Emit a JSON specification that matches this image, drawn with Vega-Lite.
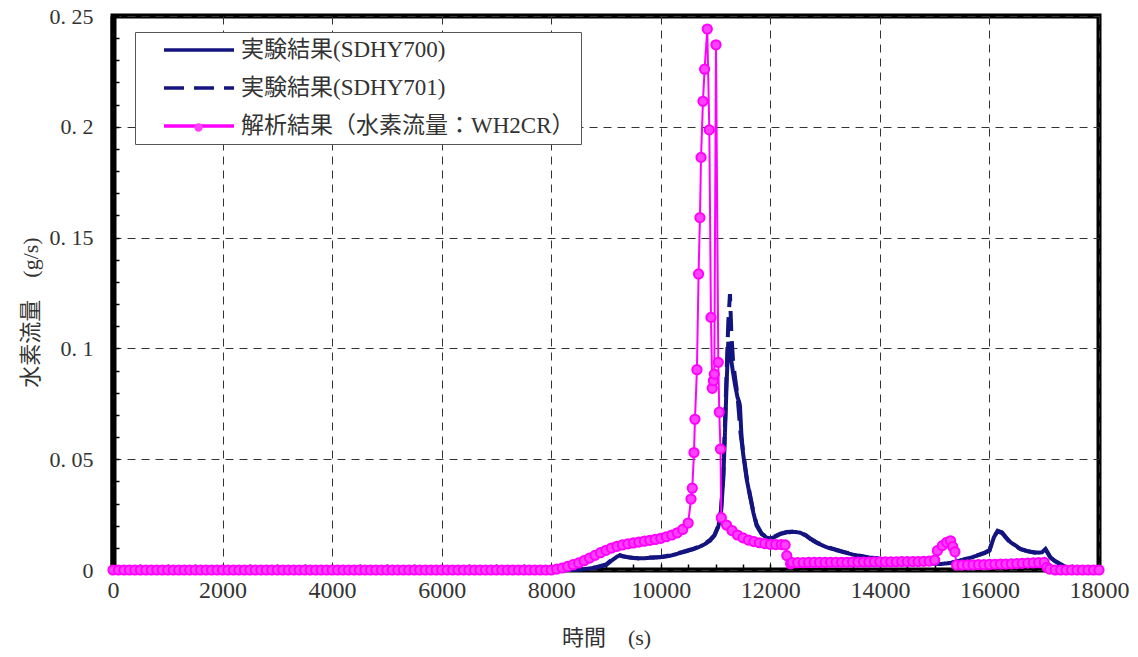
{
  "$schema": "https://vega.github.io/schema/vega-lite/v6.json",
  "width": 986,
  "height": 554,
  "autosize": {"type": "none"},
  "padding": {"left": 113, "top": 16, "right": 39, "bottom": 87},
  "background": "white",
  "config": {
    "view": {"stroke": "black", "strokeWidth": 5},
    "font": "'Liberation Serif', 'Noto Sans CJK JP'"
  },
  "datasets": {
    "d700": [
      {"t":0,"v":0},{"t":8400,"v":0},{"t":8600,"v":0.0004},{"t":8800,"v":0.001},{"t":9000,"v":0.0022},{"t":9100,"v":0.0042},{"t":9200,"v":0.006},{"t":9250,"v":0.0066},{"t":9300,"v":0.0063},{"t":9400,"v":0.0058},{"t":9500,"v":0.0055},{"t":9600,"v":0.0053},{"t":9700,"v":0.0053},{"t":9800,"v":0.0055},{"t":9900,"v":0.0056},{"t":10000,"v":0.0058},{"t":10100,"v":0.0061},{"t":10200,"v":0.0066},{"t":10300,"v":0.0073},{"t":10400,"v":0.008},{"t":10500,"v":0.0087},{"t":10600,"v":0.0094},{"t":10700,"v":0.0104},{"t":10800,"v":0.0116},{"t":10900,"v":0.0132},{"t":10980,"v":0.0155},{"t":11050,"v":0.0195},{"t":11100,"v":0.026},{"t":11141,"v":0.041},{"t":11172,"v":0.062},{"t":11203,"v":0.085},{"t":11233,"v":0.103},{"t":11260,"v":0.099},{"t":11290,"v":0.094},{"t":11320,"v":0.089},{"t":11360,"v":0.083},{"t":11400,"v":0.078},{"t":11430,"v":0.076},{"t":11446,"v":0.074},{"t":11470,"v":0.062},{"t":11500,"v":0.053},{"t":11568,"v":0.041},{"t":11628,"v":0.0334},{"t":11689,"v":0.026},{"t":11750,"v":0.02},{"t":11841,"v":0.0162},{"t":11920,"v":0.0148},{"t":12000,"v":0.0142},{"t":12060,"v":0.0147},{"t":12183,"v":0.0162},{"t":12300,"v":0.017},{"t":12450,"v":0.0172},{"t":12548,"v":0.0168},{"t":12650,"v":0.0155},{"t":12730,"v":0.014},{"t":12850,"v":0.0122},{"t":13035,"v":0.0102},{"t":13200,"v":0.009},{"t":13340,"v":0.008},{"t":13500,"v":0.007},{"t":13644,"v":0.0062},{"t":13800,"v":0.0055},{"t":14000,"v":0.005},{"t":14200,"v":0.0045},{"t":14374,"v":0.0042},{"t":14550,"v":0.0038},{"t":14740,"v":0.0034},{"t":14900,"v":0.003},{"t":15105,"v":0.0027},{"t":15300,"v":0.0032},{"t":15470,"v":0.0042},{"t":15650,"v":0.0055},{"t":15775,"v":0.0065},{"t":15900,"v":0.0075},{"t":16000,"v":0.0087},{"t":16080,"v":0.0147},{"t":16150,"v":0.0177},{"t":16230,"v":0.017},{"t":16300,"v":0.0148},{"t":16384,"v":0.0125},{"t":16480,"v":0.011},{"t":16566,"v":0.0095},{"t":16700,"v":0.0085},{"t":16810,"v":0.008},{"t":16900,"v":0.0078},{"t":16960,"v":0.008},{"t":17023,"v":0.0095},{"t":17060,"v":0.008},{"t":17114,"v":0.0057},{"t":17200,"v":0.004},{"t":17297,"v":0.0027},{"t":17400,"v":0.0012},{"t":17510,"v":0.0004},{"t":17600,"v":0},{"t":18000,"v":0}
    ],
    "d701": [
      {"t":0,"v":0},{"t":8400,"v":0},{"t":8600,"v":0.0005},{"t":8800,"v":0.0012},{"t":9000,"v":0.0025},{"t":9100,"v":0.0045},{"t":9200,"v":0.0063},{"t":9250,"v":0.0067},{"t":9300,"v":0.0062},{"t":9400,"v":0.0057},{"t":9500,"v":0.0054},{"t":9600,"v":0.0052},{"t":9700,"v":0.0054},{"t":9800,"v":0.0056},{"t":9900,"v":0.0057},{"t":10000,"v":0.0059},{"t":10100,"v":0.0063},{"t":10200,"v":0.0068},{"t":10300,"v":0.0075},{"t":10400,"v":0.0082},{"t":10500,"v":0.0089},{"t":10600,"v":0.0096},{"t":10700,"v":0.0106},{"t":10800,"v":0.0119},{"t":10900,"v":0.0136},{"t":10980,"v":0.0158},{"t":11050,"v":0.02},{"t":11100,"v":0.027},{"t":11141,"v":0.043},{"t":11172,"v":0.066},{"t":11203,"v":0.09},{"t":11233,"v":0.112},{"t":11263,"v":0.1245},{"t":11290,"v":0.106},{"t":11320,"v":0.094},{"t":11360,"v":0.086},{"t":11400,"v":0.079},{"t":11430,"v":0.07},{"t":11446,"v":0.064},{"t":11470,"v":0.059},{"t":11500,"v":0.054},{"t":11568,"v":0.042},{"t":11628,"v":0.034},{"t":11689,"v":0.0265},{"t":11750,"v":0.0205},{"t":11841,"v":0.0165},{"t":11920,"v":0.015},{"t":12000,"v":0.0144},{"t":12060,"v":0.0149},{"t":12183,"v":0.0164},{"t":12300,"v":0.0172},{"t":12450,"v":0.0174},{"t":12548,"v":0.017},{"t":12650,"v":0.0157},{"t":12730,"v":0.0142},{"t":12850,"v":0.0124},{"t":13035,"v":0.0104},{"t":13200,"v":0.0092},{"t":13340,"v":0.0082},{"t":13500,"v":0.0072},{"t":13644,"v":0.0064},{"t":13800,"v":0.0057},{"t":14000,"v":0.0052},{"t":14200,"v":0.0047},{"t":14374,"v":0.0043},{"t":14550,"v":0.0039},{"t":14740,"v":0.0035},{"t":14900,"v":0.0031},{"t":15105,"v":0.0028},{"t":15300,"v":0.0033},{"t":15470,"v":0.0043},{"t":15650,"v":0.0056},{"t":15775,"v":0.0066},{"t":15900,"v":0.0077},{"t":16000,"v":0.009},{"t":16080,"v":0.015},{"t":16150,"v":0.0174},{"t":16230,"v":0.0167},{"t":16300,"v":0.0146},{"t":16384,"v":0.0123},{"t":16480,"v":0.0108},{"t":16566,"v":0.0094},{"t":16700,"v":0.0084},{"t":16810,"v":0.0079},{"t":16900,"v":0.0077},{"t":16960,"v":0.0081},{"t":17023,"v":0.0092},{"t":17060,"v":0.0078},{"t":17114,"v":0.0056},{"t":17200,"v":0.0039},{"t":17297,"v":0.0026},{"t":17400,"v":0.0011},{"t":17510,"v":0.0004},{"t":17600,"v":0},{"t":18000,"v":0}
    ],
    "calc": [
      {"t":0,"v":0},{"t":100,"v":0},{"t":200,"v":0},{"t":300,"v":0},{"t":400,"v":0},{"t":500,"v":0},{"t":600,"v":0},{"t":700,"v":0},{"t":800,"v":0},{"t":900,"v":0},
      {"t":1000,"v":0},{"t":1100,"v":0},{"t":1200,"v":0},{"t":1300,"v":0},{"t":1400,"v":0},{"t":1500,"v":0},{"t":1600,"v":0},{"t":1700,"v":0},{"t":1800,"v":0},{"t":1900,"v":0},
      {"t":2000,"v":0},{"t":2100,"v":0},{"t":2200,"v":0},{"t":2300,"v":0},{"t":2400,"v":0},{"t":2500,"v":0},{"t":2600,"v":0},{"t":2700,"v":0},{"t":2800,"v":0},{"t":2900,"v":0},
      {"t":3000,"v":0},{"t":3100,"v":0},{"t":3200,"v":0},{"t":3300,"v":0},{"t":3400,"v":0},{"t":3500,"v":0},{"t":3600,"v":0},{"t":3700,"v":0},{"t":3800,"v":0},{"t":3900,"v":0},
      {"t":4000,"v":0},{"t":4100,"v":0},{"t":4200,"v":0},{"t":4300,"v":0},{"t":4400,"v":0},{"t":4500,"v":0},{"t":4600,"v":0},{"t":4700,"v":0},{"t":4800,"v":0},{"t":4900,"v":0},
      {"t":5000,"v":0},{"t":5100,"v":0},{"t":5200,"v":0},{"t":5300,"v":0},{"t":5400,"v":0},{"t":5500,"v":0},{"t":5600,"v":0},{"t":5700,"v":0},{"t":5800,"v":0},{"t":5900,"v":0},
      {"t":6000,"v":0},{"t":6100,"v":0},{"t":6200,"v":0},{"t":6300,"v":0},{"t":6400,"v":0},{"t":6500,"v":0},{"t":6600,"v":0},{"t":6700,"v":0},{"t":6800,"v":0},{"t":6900,"v":0},
      {"t":7000,"v":0},{"t":7100,"v":0},{"t":7200,"v":0},{"t":7300,"v":0},{"t":7400,"v":0},{"t":7500,"v":0},{"t":7600,"v":0},{"t":7700,"v":0},{"t":7800,"v":0},{"t":7900,"v":0},
      {"t":8000,"v":0},{"t":8100,"v":0.0004},{"t":8200,"v":0.0009},{"t":8300,"v":0.0016},{"t":8400,"v":0.0024},{"t":8500,"v":0.0032},{"t":8600,"v":0.0042},{"t":8700,"v":0.0054},{"t":8800,"v":0.0066},{"t":8900,"v":0.0078},
      {"t":9000,"v":0.0089},{"t":9100,"v":0.0099},{"t":9200,"v":0.0107},{"t":9300,"v":0.0113},{"t":9400,"v":0.0118},{"t":9500,"v":0.0122},{"t":9600,"v":0.0126},{"t":9700,"v":0.013},{"t":9800,"v":0.0134},{"t":9900,"v":0.0138},
      {"t":10000,"v":0.0143},{"t":10100,"v":0.015},{"t":10200,"v":0.0158},{"t":10300,"v":0.0168},{"t":10400,"v":0.0183},{"t":10500,"v":0.0212},
      {"t":10552,"v":0.032},{"t":10575,"v":0.0369},{"t":10606,"v":0.053},{"t":10624,"v":0.068},{"t":10660,"v":0.0904},{"t":10690,"v":0.1336},{"t":10715,"v":0.159},{"t":10735,"v":0.1862},{"t":10770,"v":0.2115},{"t":10800,"v":0.226},{"t":10849,"v":0.2441},{"t":10886,"v":0.1986},{"t":10916,"v":0.114},{"t":10940,"v":0.082},{"t":10960,"v":0.0854},{"t":10977,"v":0.0884},{"t":11008,"v":0.237},{"t":11050,"v":0.0937},{"t":11068,"v":0.0712},{"t":11090,"v":0.0546},{"t":11105,"v":0.0236},
      {"t":11200,"v":0.0203},{"t":11300,"v":0.0178},{"t":11400,"v":0.0158},{"t":11500,"v":0.0145},{"t":11600,"v":0.0135},{"t":11700,"v":0.0128},{"t":11800,"v":0.0123},{"t":11900,"v":0.0119},{"t":12000,"v":0.0116},{"t":12100,"v":0.0115},{"t":12200,"v":0.0115},{"t":12270,"v":0.0113},{"t":12300,"v":0.0065},{"t":12370,"v":0.0028},
      {"t":12400,"v":0.0033},{"t":12500,"v":0.0033},{"t":12600,"v":0.0033},{"t":12700,"v":0.0034},{"t":12800,"v":0.0034},{"t":12900,"v":0.0034},{"t":13000,"v":0.0034},{"t":13100,"v":0.0035},{"t":13200,"v":0.0035},{"t":13300,"v":0.0035},{"t":13400,"v":0.0035},{"t":13500,"v":0.0036},{"t":13600,"v":0.0036},{"t":13700,"v":0.0036},{"t":13800,"v":0.0036},{"t":13900,"v":0.0037},{"t":14000,"v":0.0037},{"t":14100,"v":0.0037},{"t":14200,"v":0.0037},{"t":14300,"v":0.0037},{"t":14400,"v":0.0038},{"t":14500,"v":0.0038},{"t":14600,"v":0.0038},{"t":14700,"v":0.0038},{"t":14800,"v":0.0039},{"t":14900,"v":0.004},{"t":15000,"v":0.0045},
      {"t":15050,"v":0.0087},{"t":15140,"v":0.011},{"t":15220,"v":0.0125},{"t":15290,"v":0.0132},{"t":15330,"v":0.0105},{"t":15370,"v":0.0082},{"t":15400,"v":0.0022},
      {"t":15500,"v":0.0022},{"t":15600,"v":0.0023},{"t":15700,"v":0.0023},{"t":15800,"v":0.0024},{"t":15900,"v":0.0024},{"t":16000,"v":0.0025},{"t":16100,"v":0.0026},{"t":16200,"v":0.0027},{"t":16300,"v":0.0027},{"t":16400,"v":0.0028},{"t":16500,"v":0.0029},{"t":16600,"v":0.003},{"t":16700,"v":0.0031},{"t":16800,"v":0.0032},{"t":16900,"v":0.0033},{"t":17000,"v":0.0034},{"t":17050,"v":0.0012},{"t":17100,"v":0.0004},
      {"t":17200,"v":0},{"t":17300,"v":0},{"t":17400,"v":0},{"t":17500,"v":0},{"t":17600,"v":0},{"t":17700,"v":0},{"t":17800,"v":0},{"t":17900,"v":0},{"t":18000,"v":0}
    ]
  },
  "encoding": {
    "x": {
      "field": "t", "type": "quantitative",
      "scale": {"domain": [0, 18000], "nice": false, "zero": false},
      "axis": {
        "values": [0,500,1000,1500,2000,2500,3000,3500,4000,4500,5000,5500,6000,6500,7000,7500,8000,8500,9000,9500,10000,10500,11000,11500,12000,12500,13000,13500,14000,14500,15000,15500,16000,16500,17000,17500,18000],
        "format": "d",
        "labelExpr": "datum.value % 2000 === 0 ? datum.label : ''",
        "labelFont": "Liberation Serif", "labelFontSize": 24, "labelColor": "#333",
        "labelPadding": 14, "labelOverlap": false, "labelFlush": false, "labelBound": false,
        "tickSize": -6, "tickColor": "black", "tickWidth": 1.5,
        "domain": false,
        "grid": true, "gridDash": [8, 6], "gridColor": "#333", "gridWidth": 1,
        "gridOpacity": {"condition": {"test": "datum.value % 2000 === 0", "value": 1}, "value": 0},
        "title": "時間　(s)",
        "titleFont": "'Liberation Serif', 'Noto Sans CJK JP'", "titleFontSize": 22, "titleFontWeight": "normal", "titleColor": "#333",
        "titleY": 67, "titleBaseline": "middle"
      }
    },
    "y": {
      "field": "v", "type": "quantitative",
      "scale": {"domain": [0, 0.25], "nice": false},
      "axis": {
        "values": [0,0.01,0.02,0.03,0.04,0.05,0.06,0.07,0.08,0.09,0.1,0.11,0.12,0.13,0.14,0.15,0.16,0.17,0.18,0.19,0.2,0.21,0.22,0.23,0.24,0.25],
        "labelExpr": "round(datum.value*100) % 5 === 0 ? (datum.value === 0 ? '0' : replace(format(datum.value, '.2~f'), '.', '. ')) : ''",
        "labelFont": "Liberation Serif", "labelFontSize": 22, "labelColor": "#333",
        "labelPadding": 26, "labelOverlap": false, "labelFlush": false, "labelBound": false,
        "tickSize": -6, "tickColor": "black", "tickWidth": 1.5,
        "domain": true, "domainColor": "black", "domainWidth": 6,
        "grid": true, "gridDash": [8, 6], "gridColor": "#333", "gridWidth": 1,
        "gridOpacity": {"condition": {"test": "round(datum.value*100) % 5 === 0", "value": 1}, "value": 0},
        "title": "水素流量　(g/s)",
        "titleFont": "'Liberation Serif', 'Noto Sans CJK JP'", "titleFontSize": 22, "titleFontWeight": "normal", "titleColor": "#333",
        "titleX": -83, "titleY": 296, "titleBaseline": "middle", "titleAngle": 270
      }
    }
  },
  "layer": [
    {
      "data": {"name": "d700"},
      "mark": {"type": "line", "strokeWidth": 4},
      "encoding": {
        "color": {
          "datum": "実験結果(SDHY700)",
          "scale": {"domain": ["実験結果(SDHY700)", "実験結果(SDHY701)", "解析結果（水素流量：WH2CR）"], "range": ["#141480", "#141480", "#ff00ff"]},
          "legend": {
            "orient": "none", "legendX": 22, "legendY": 16, "title": null,
            "symbolType": "stroke", "symbolSize": 4900, "symbolStrokeWidth": 3.5,
            "clipHeight": 24, "rowPadding": 14, "padding": 6, "symbolOffset": 21, "labelOffset": 5,
            "labelFont": "'Liberation Serif', 'Noto Sans CJK JP'", "labelFontSize": 23, "labelColor": "#333", "labelLimit": 600,
            "fillColor": "white", "strokeColor": "#555"
          }
        },
        "strokeDash": {
          "datum": "実験結果(SDHY700)",
          "scale": {"domain": ["実験結果(SDHY700)", "実験結果(SDHY701)", "解析結果（水素流量：WH2CR）"], "range": [[1, 0], [20, 10], [1, 0]]}
        }
      }
    },
    {
      "data": {"name": "d701"},
      "mark": {"type": "line", "strokeWidth": 4},
      "encoding": {
        "color": {"datum": "実験結果(SDHY701)"},
        "strokeDash": {"datum": "実験結果(SDHY701)"}
      }
    },
    {
      "data": {"name": "calc"},
      "mark": {"type": "line", "strokeWidth": 2},
      "encoding": {
        "color": {"datum": "解析結果（水素流量：WH2CR）"},
        "strokeDash": {"datum": "解析結果（水素流量：WH2CR）"}
      }
    },
    {
      "data": {"name": "calc"},
      "mark": {"type": "point", "size": 85, "filled": false, "stroke": "#ff00ff", "strokeWidth": 2, "fill": "#ff40ff", "fillOpacity": 1, "opacity": 1},
      "encoding": {
        "shape": {
          "datum": "解析結果（水素流量：WH2CR）",
          "scale": {"domain": ["解析結果（水素流量：WH2CR）"], "range": ["circle"]},
          "legend": {
            "orient": "none", "legendX": 80, "legendY": 106, "title": null,
            "labelExpr": "''", "labelFontSize": 1, "labelOffset": 0, "labelLimit": 1,
            "symbolSize": 70, "symbolStrokeWidth": 2, "symbolStrokeColor": "#ff00ff", "symbolFillColor": "#ff66ff",
            "padding": 0, "symbolOffset": 0
          }
        }
      }
    }
  ]
}
